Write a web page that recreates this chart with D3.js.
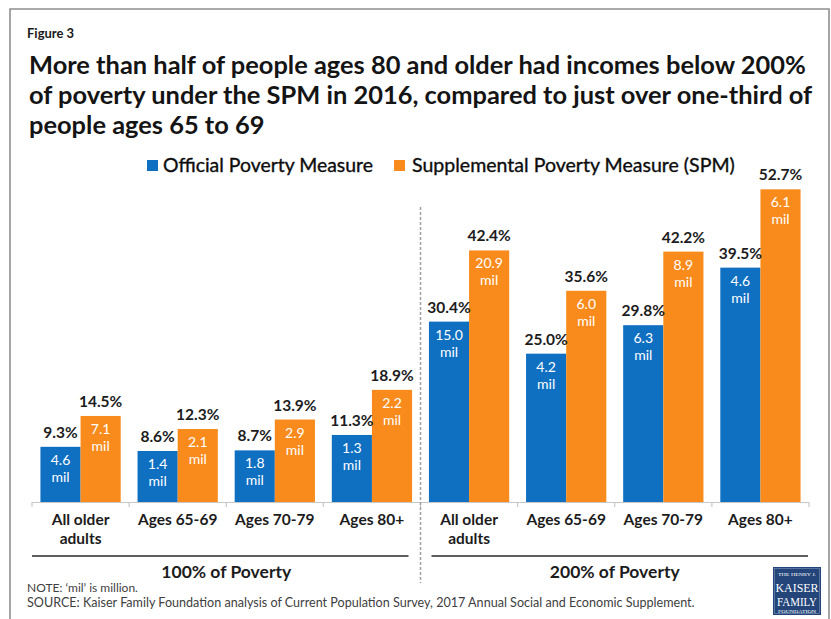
<!DOCTYPE html>
<html>
<head>
<meta charset="utf-8">
<script src="https://cdn.jsdelivr.net/npm/d3@7"></script>
<style>
  html, body { margin: 0; padding: 0; background: #fff; }
  svg { display: block; }
  text { font-family: Lato, "Open Sans", sans-serif; }
</style>
</head>
<body>
<svg id="chart" width="831" height="619"></svg>
<script>
// ---- data ----
const sections = ["100% of Poverty", "200% of Poverty"];
const ageGroups = ["All older\nadults", "Ages 65-69", "Ages 70-79", "Ages 80+"];
const seriesNames = ["Official Poverty Measure", "Supplemental Poverty Measure (SPM)"];
// share of people (%) below each poverty threshold, section by section
const officialPct = [9.3, 8.6, 8.7, 11.3, 30.4, 25.0, 29.8, 39.5];
const spmPct      = [14.5, 12.3, 13.9, 18.9, 42.4, 35.6, 42.2, 52.7];
// number of people, millions
const officialMil = [4.6, 1.4, 1.8, 1.3, 15.0, 4.2, 6.3, 4.6];
const spmMil      = [7.1, 2.1, 2.9, 2.2, 20.9, 6.0, 8.9, 6.1];

const colors = ["#0f6fc1", "#f88b1c"];

// ---- build rows ----
const rows = [];
sections.forEach((s, si) => {
  ageGroups.forEach((a, ai) => {
    const i = si * ageGroups.length + ai;
    rows.push({
      key: s + "|" + a, section: si, label: a,
      values: [
        { series: 0, pct: officialPct[i], mil: officialMil[i] },
        { series: 1, pct: spmPct[i], mil: spmMil[i] }
      ]
    });
  });
});

const svg = d3.select("#chart");

// frame
const frame = svg.append("g").attr("fill", "none").attr("stroke", "#8f8f8f");
frame.append("path").attr("d", "M10,619 V9 H829 V619").attr("stroke-width", 1.6);

// fit a text element to a given width by scaling its font size
function fit(sel, width) {
  const node = sel.node();
  const fs = parseFloat(sel.attr("font-size"));
  const w = node.getComputedTextLength();
  sel.attr("font-size", (fs * width / w).toFixed(2));
  return sel;
}

// ---- headings ----
svg.append("text").attr("x", 27).attr("y", 38)
  .attr("font-size", 13).attr("font-weight", 700).attr("fill", "#1a1a1a")
  .text("Figure 3");

const titleLines = [
  "More than half of people ages 80 and older had incomes below 200%",
  "of poverty under the SPM in 2016, compared to just over one-third of",
  "people ages 65 to 69"
];
const t0 = svg.append("text").attr("x", 29).attr("y", 74)
  .attr("font-size", 24).attr("font-weight", 700).attr("fill", "#141414")
  .text(titleLines[0]);
fit(t0, 777);
const titleSize = t0.attr("font-size");
titleLines.slice(1).forEach((l, i) => {
  svg.append("text").attr("x", 29).attr("y", 104 + i * 30)
    .attr("font-size", titleSize).attr("font-weight", 700).attr("fill", "#141414")
    .text(l);
});

// ---- legend ----
const legendPos = [{ sq: 147, tx: 163, w: 210 }, { sq: 394, tx: 412, w: 323 }];
seriesNames.forEach((n, i) => {
  svg.append("rect").attr("x", legendPos[i].sq).attr("y", 160)
    .attr("width", 11).attr("height", 11).attr("fill", colors[i]);
  const t = svg.append("text").attr("x", legendPos[i].tx).attr("y", 172)
    .attr("font-size", 17).attr("fill", "#0d0d0d")
    .attr("stroke", "#0d0d0d").attr("stroke-width", 0.35)
    .text(n);
  fit(t, legendPos[i].w);
});

// ---- scales ----
const baseY = 502;
const x0 = d3.scaleBand().domain(rows.map(d => d.key)).range([32, 809]);
const x1 = d3.scaleBand().domain([0, 1]).range([0, x0.bandwidth()]).paddingOuter(0.21);
const y = d3.scaleLinear().domain([0, 60]).range([baseY, baseY - 356]);

// ---- bars ----
const groupSel = svg.append("g").selectAll("g").data(rows).join("g")
  .attr("transform", d => `translate(${x0(d.key)},0)`);

groupSel.selectAll("rect").data(d => d.values).join("rect")
  .attr("x", v => x1(v.series))
  .attr("y", v => y(v.pct))
  .attr("width", x1.bandwidth())
  .attr("height", v => y(0) - y(v.pct))
  .attr("fill", v => colors[v.series]);

// percent labels above bars
groupSel.selectAll("text.pct").data(d => d.values).join("text")
  .attr("class", "pct")
  .attr("x", v => x1(v.series) + x1.bandwidth() / 2)
  .attr("y", v => y(v.pct) - 9)
  .attr("text-anchor", "middle")
  .attr("font-size", 15.5).attr("font-weight", 700).attr("fill", "#1c1c1c")
  .text(v => v.pct.toFixed(1) + "%");

// counts inside bars
groupSel.selectAll("text.mil").data(d => d.values).join("text")
  .attr("class", "mil")
  .attr("x", v => x1(v.series) + x1.bandwidth() / 2)
  .attr("y", v => y(v.pct) + 18)
  .attr("text-anchor", "middle")
  .attr("font-size", 14).attr("fill", "#ffffff")
  .each(function (v) {
    const t = d3.select(this);
    t.append("tspan").attr("x", t.attr("x")).text(v.mil.toFixed(1));
    t.append("tspan").attr("x", t.attr("x")).attr("dy", 17).text("mil");
  });

// ---- category axis ----
const axis = svg.append("g");
axis.append("line").attr("x1", x0.range()[0]).attr("x2", x0.range()[1])
  .attr("y1", baseY + 0.5).attr("y2", baseY + 0.5)
  .attr("stroke", "#c8c8c8").attr("stroke-width", 1.2);
const tickXs = rows.map(d => x0(d.key)).concat([x0.range()[1]]);
axis.selectAll("line.tick").data(tickXs).join("line").attr("class", "tick")
  .attr("x1", d => d).attr("x2", d => d)
  .attr("y1", baseY).attr("y2", baseY + 5)
  .attr("stroke", "#c8c8c8").attr("stroke-width", 1.2);

// category names, one text per line
rows.forEach(d => {
  d.label.split("\n").forEach((l, i) => {
    axis.append("text")
      .attr("x", x0(d.key) + x0.bandwidth() / 2)
      .attr("y", 525 + i * 19)
      .attr("text-anchor", "middle")
      .attr("font-size", 15.5).attr("font-weight", 700).attr("fill", "#1c1c1c")
      .text(l);
  });
});

// ---- section brackets ----
sections.forEach((s, si) => {
  const keys = rows.filter(r => r.section === si).map(r => r.key);
  const a = x0(keys[0]);
  const b = x0(keys[keys.length - 1]) + x0.bandwidth();
  const lx1 = si === 0 ? a : a + 11;
  const lx2 = si === 0 ? b - 12 : b - 1;
  svg.append("line").attr("x1", lx1).attr("x2", lx2)
    .attr("y1", 556).attr("y2", 556)
    .attr("stroke", "#5f5f5f").attr("stroke-width", 2);
  svg.append("text").attr("x", (a + b) / 2).attr("y", 578)
    .attr("text-anchor", "middle")
    .attr("font-size", 17.5).attr("font-weight", 700).attr("fill", "#1c1c1c")
    .text(s);
});

// dashed divider between the two thresholds
const divX = x0(rows[ageGroups.length].key);
svg.append("line").attr("x1", divX).attr("x2", divX)
  .attr("y1", 207).attr("y2", 583)
  .attr("stroke", "#a0a0a0").attr("stroke-width", 1.5)
  .attr("stroke-dasharray", "3,2");

// ---- notes ----
svg.append("text").attr("x", 27).attr("y", 592)
  .attr("font-size", 12).attr("fill", "#404040")
  .text("NOTE: \u2018mil\u2019 is million.");
const src = svg.append("text").attr("x", 27).attr("y", 607)
  .attr("font-size", 12).attr("fill", "#404040")
  .text("SOURCE: Kaiser Family Foundation analysis of Current Population Survey, 2017 Annual Social and Economic Supplement.");
fit(src, 668);

// ---- KFF logo ----
const logo = svg.append("g").attr("transform", "translate(773,567)");
logo.append("rect").attr("width", 48).attr("height", 48).attr("fill", "#23457a");
logo.append("rect").attr("x", 1.5).attr("y", 1.5).attr("width", 45).attr("height", 45)
  .attr("fill", "none").attr("stroke", "#8fa3c4").attr("stroke-width", 0.5);
const serif = "'Liberation Serif', 'DejaVu Serif', serif";
const logoLines = [
  { t: "THE HENRY J.", y: 9, fs: 5, w: 38 },
  { t: "KAISER", y: 24.5, fs: 12, w: 43 },
  { t: "FAMILY", y: 38.5, fs: 12, w: 40 },
  { t: "FOUNDATION", y: 45.5, fs: 4.2, w: 38 }
];
logoLines.forEach(l => {
  logo.append("text").attr("x", 24).attr("y", l.y).attr("text-anchor", "middle")
    .style("font-family", serif).attr("font-size", l.fs).attr("fill", "#fff")
    .attr("textLength", l.w).attr("lengthAdjust", "spacingAndGlyphs").text(l.t);
});
</script>
</body>
</html>
